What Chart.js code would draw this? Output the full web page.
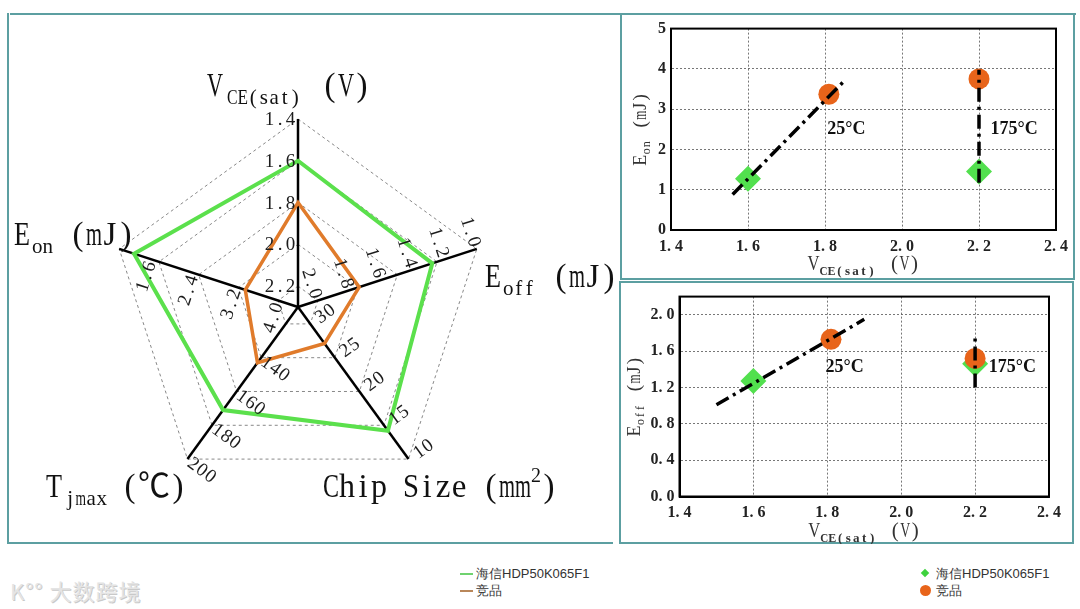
<!DOCTYPE html>
<html>
<head>
<meta charset="utf-8">
<script src="https://cdn.jsdelivr.net/npm/chart.js@4.4.1/dist/chart.umd.min.js"></script>
<style>
html, body { margin: 0; padding: 0; background: #fff; }
#page { position: relative; width: 1080px; height: 609px; overflow: hidden; font-family: 'Liberation Sans', Arial, sans-serif; }
canvas { position: absolute; }
.line { position: absolute; background: #5c9fa1; }
.legend { position: absolute; font-size: 13px; color: #333; line-height: 17px; }
.legend div { position: relative; padding-left: 18px; }
.legend .dash { position: absolute; left: 2px; top: 8px; width: 13px; height: 2px; }
.legend .dia { position: absolute; left: 4px; top: 5px; width: 6px; height: 6px; transform: rotate(45deg); background: #3ed23e; }
.legend .dot { position: absolute; left: 2px; top: 3px; width: 11px; height: 11px; border-radius: 50%; background: #e8641a; }
#mark { position: absolute; left: 10px; top: 574px; font-size: 22px; color: #e4e4e4; font-family: 'Noto Sans CJK SC', sans-serif; text-shadow: 1px 1px 0 #c9c9c9; letter-spacing: 1px; }
</style>
</head>
<body>
<div id="page">
  <div class="line" style="left:10px;top:13px;width:1066px;height:2px;"></div>
  <div class="line" style="left:7px;top:13px;width:2px;height:531px;"></div>
  <div class="line" style="left:7px;top:542px;width:606px;height:2px;"></div>
  <div class="line" style="left:620px;top:13px;width:2px;height:266px;"></div>
  <div class="line" style="left:1073px;top:13px;width:2px;height:266px;"></div>
  <div class="line" style="left:620px;top:278px;width:455px;height:2px;"></div>
  <div class="line" style="left:619px;top:281px;width:455px;height:2px;"></div>
  <div class="line" style="left:619px;top:281px;width:2px;height:263px;"></div>
  <div class="line" style="left:1072px;top:281px;width:2px;height:263px;"></div>
  <div class="line" style="left:619px;top:542px;width:455px;height:2px;"></div>

  <canvas id="radar" width="620" height="545" style="left:0;top:0;"></canvas>
  <canvas id="eonChart" width="455" height="266" style="left:620px;top:14px;"></canvas>
  <canvas id="eoffChart" width="455" height="262" style="left:620px;top:282px;"></canvas>

  <div class="legend" style="left:458px;top:565px;">
    <div><span class="dash" style="background:#6fd26f;"></span>海信HDP50K065F1</div>
    <div><span class="dash" style="background:#b9875a;"></span>竞品</div>
  </div>
  <div class="legend" style="left:918px;top:565px;">
    <div><span class="dia"></span>海信HDP50K065F1</div>
    <div><span class="dot"></span>竞品</div>
  </div>
  <div id="mark">K°° 大数跨境</div>
</div>

<script>
// Radar axes (clockwise from top)
const radarAxes = ['VCE(sat) (V)', 'Eoff (mJ)', 'Chip Size (mm2)', 'Tjmax (℃)', 'Eon (mJ)'];
const axisOuter = [1.4, 1.0, 10, 200, 1.0]; // value at outer ring
const axisInner = [2.2, 2.0, 30, 120, 4.0]; // value at innermost ring
const axisTicks = [
    ['1.4', '1.6', '1.8', '2.0', '2.2'],
    ['1.0', '1.2', '1.4', '1.6', '1.8', '2.0'],
    ['10', '15', '20', '25', '30'],
    ['140', '160', '180', '200'],
    ['1.6', '2.4', '3.2', '4.0']
];
const hisenseRadar = [1.6, 1.28, 14.2, 171, 1.28];
const rivalRadar = [1.8, 1.74, 27.1, 143, 3.38];
const ringLevels = [0, 0.5, 1.5, 2.5, 3.5, 4.5];

// Scatter data
const vceTicks = [1.4, 1.6, 1.8, 2.0, 2.2, 2.4];
const eonTicks = [0, 1, 2, 3, 4, 5];
const eoffTicks = [0, 0.4, 0.8, 1.2, 1.6, 2.0];
const hisenseVce = [1.6, 2.2];
const rivalVce = [1.81, 2.2];
const hisenseEon = [1.27, 1.45];
const rivalEon = [3.37, 3.75];
const hisenseEoff = [1.27, 1.46];
const rivalEoff = [1.73, 1.52];
const eonTrend25 = [[1.56, 0.88], [1.85, 3.70]];
const eonTrend175 = [[2.2, 1.17], [2.2, 3.98]];
const eoffTrend25 = [[1.5, 1.01], [1.9, 1.95]];
const eoffTrend175 = [[2.2, 1.2], [2.2, 1.77]];
const eonTempLabels = [['25°C', 1.806, 2.49], ['175°C', 2.23, 2.49]];
const eoffTempLabels = [['25°C', 1.795, 1.42], ['175°C', 2.237, 1.42]];

const serif = "'Liberation Serif', 'Noto Sans CJK SC', serif";

// Draw text like a fixed-width (SimSun style) font: each glyph in its own cell
function monoText(ctx, text, x, y, size, cell, weight) {
    ctx.font = (weight || 'normal') + ' ' + size + 'px ' + serif;
    ctx.textAlign = 'center';
    let cx = x;
    for (const ch of text) {
        const c = ch.charCodeAt(0) > 0x2000 ? cell * 2 : cell;
        const w = ctx.measureText(ch).width;
        ctx.save();
        ctx.translate(cx + c / 2, y);
        if (w > c) ctx.scale(c / w, 1);
        ctx.fillText(ch, 0, 0);
        ctx.restore();
        cx += c;
    }
    return cx;
}

function monoWidth(text, cell) {
    let w = 0;
    for (const ch of text) w += ch.charCodeAt(0) > 0x2000 ? cell * 2 : cell;
    return w;
}

// map an axis value onto the shared radial scale (0.5 .. 4.5)
function norm(v, i) {
    return 0.5 + 4 * (v - axisInner[i]) / (axisOuter[i] - axisInner[i]);
}

const radarText = {
    id: 'radarText',
    afterDraw(chart) {
        const s = chart.scales.r;
        const ctx = chart.ctx;
        ctx.save();
        ctx.fillStyle = '#1c1c1c';
        ctx.textBaseline = 'middle';
        radarAxes.forEach((name, i) => {
            const deg = i * 72;
            const rot = deg <= 90 ? deg : (deg < 270 ? deg - 180 : deg - 360);
            const side = (deg - 90) * Math.PI / 180;
            axisTicks[i].forEach(t => {
                const p = s.getPointPosition(i, s.getDistanceFromCenterForValue(norm(parseFloat(t), i)));
                const cx = p.x + 18 * Math.sin(side);
                const cy = p.y - 18 * Math.cos(side);
                ctx.save();
                ctx.translate(cx, cy);
                ctx.rotate(rot * Math.PI / 180);
                monoText(ctx, t, -monoWidth(t, 10.5) / 2, 1, 19, 10.5);
                ctx.restore();
            });
        });

        // axis titles
        ctx.textBaseline = 'alphabetic';
        ctx.fillStyle = '#111';
        let x = monoText(ctx, 'V', 207, 96, 33, 16);
        monoText(ctx, 'CE(sat)', x + 4, 104, 21, 10.5);
        monoText(ctx, '(V)', 322, 96, 33, 16);

        x = monoText(ctx, 'E', 14, 245, 33, 16);
        monoText(ctx, 'on', x + 2, 253, 21, 10.5);
        monoText(ctx, '(mJ)', 70, 245, 33, 16);

        x = monoText(ctx, 'E', 485, 287, 33, 16);
        monoText(ctx, 'off', x + 2, 295, 21, 10.5);
        monoText(ctx, '(mJ)', 553, 287, 33, 16);

        x = monoText(ctx, 'T', 46, 497, 33, 16);
        monoText(ctx, 'jmax', x + 3, 505, 21, 10.5);
        monoText(ctx, '(℃)', 122, 497, 33, 16);

        x = monoText(ctx, 'Chip Size (mm', 323, 497, 33, 16);
        x = monoText(ctx, '2', x, 482, 20, 10);
        monoText(ctx, ')', x, 497, 33, 16);
        ctx.restore();
    }
};

new Chart(document.getElementById('radar'), {
    type: 'radar',
    data: {
        labels: radarAxes,
        datasets: [
            {
                label: '海信HDP50K065F1',
                data: hisenseRadar.map(norm),
                borderColor: '#5be04c',
                borderWidth: 4,
                fill: false,
                pointRadius: 0
            },
            {
                label: '竞品',
                data: rivalRadar.map(norm),
                borderColor: '#e07b2b',
                borderWidth: 3.5,
                fill: false,
                pointRadius: 0
            }
        ]
    },
    options: {
        responsive: false,
        animation: false,
        layout: { padding: { left: 110, right: 134, top: 119, bottom: 50 } },
        elements: { line: { tension: 0, borderJoinStyle: 'miter' } },
        plugins: { legend: { display: false }, tooltip: { enabled: false } },
        scales: {
            r: {
                min: 0,
                max: 4.5,
                startAngle: 0,
                afterBuildTicks: s => { s.ticks = ringLevels.map(v => ({ value: v })); },
                ticks: { display: false },
                pointLabels: { display: false },
                grid: { color: '#6a6a6a', lineWidth: 0.8, borderDash: [3, 3] },
                border: { dash: [3, 3] },
                angleLines: { color: '#000', lineWidth: 2.5 }
            }
        }
    },
    plugins: [radarText]
});

// frame, axis titles and temperature labels for the scatter panels
function scatterDecor(yName, tempLabels, yTitleOffset) {
    return {
        id: 'decor',
        afterDraw(chart) {
            const ctx = chart.ctx;
            const a = chart.chartArea;
            const xs = chart.scales.x, ys = chart.scales.y;
            ctx.save();
            ctx.strokeStyle = '#000';
            ctx.lineWidth = 2;
            ctx.strokeRect(a.left, a.top, a.right - a.left, a.bottom - a.top);

            ctx.fillStyle = '#111';
            ctx.textBaseline = 'middle';
            tempLabels.forEach(l => {
                ctx.font = 'bold 18px ' + serif;
                ctx.textAlign = 'left';
                ctx.fillText(l[0], xs.getPixelForValue(l[1]), ys.getPixelForValue(l[2]));
            });

            // x title
            ctx.textBaseline = 'alphabetic';
            ctx.fillStyle = '#333';
            const cx = (a.left + a.right) / 2;
            const w = 12 + 7 * 8 + 14 + 3 * 10;
            let x = monoText(ctx, 'V', cx - w / 2, a.bottom + 40, 21, 12);
            monoText(ctx, 'CE(sat)', x, a.bottom + 45, 13, 8, 'bold');
            monoText(ctx, '(V)', x + 7 * 8 + 14, a.bottom + 40, 21, 10);

            // y title (rotated)
            ctx.translate(a.left - yTitleOffset, (a.top + a.bottom) / 2);
            ctx.rotate(-Math.PI / 2);
            const wy = 11 + yName.length * 7 + 12 + 4 * 9;
            x = monoText(ctx, 'E', -wy / 2, 6, 19, 11);
            monoText(ctx, yName, x, 10, 12, 7);
            monoText(ctx, '(mJ)', x + yName.length * 7 + 12, 6, 19, 9);
            ctx.restore();
        }
    };
}

function scatterConfig(yVals, yMax, hisY, rivY, trend25, trend175, tempLabels, yName, pad, yWidth, xHeight, yTitleOffset, tickFmt) {
    return {
        type: 'scatter',
        data: {
            datasets: [
                {
                    type: 'line',
                    data: trend25.map(p => ({ x: p[0], y: p[1] })),
                    borderColor: '#000',
                    borderWidth: 3.5,
                    borderDash: [14, 5, 3, 5],
                    pointRadius: 0,
                    order: 1
                },
                {
                    type: 'line',
                    data: trend175.map(p => ({ x: p[0], y: p[1] })),
                    borderColor: '#000',
                    borderWidth: 3.5,
                    borderDash: [14, 5, 3, 5],
                    pointRadius: 0,
                    order: 1
                },
                {
                    label: '竞品',
                    data: rivalVce.map((v, i) => ({ x: v, y: rivY[i] })),
                    pointStyle: 'circle',
                    pointRadius: 10.5,
                    backgroundColor: '#e8641a',
                    borderWidth: 0,
                    order: 2
                },
                {
                    label: '海信HDP50K065F1',
                    data: hisenseVce.map((v, i) => ({ x: v, y: hisY[i] })),
                    pointStyle: 'rectRot',
                    pointRadius: 13,
                    backgroundColor: '#52e04e',
                    borderWidth: 0,
                    order: 3
                }
            ]
        },
        options: {
            responsive: false,
            animation: false,
            layout: { padding: pad },
            plugins: { legend: { display: false }, tooltip: { enabled: false } },
            scales: {
                x: {
                    type: 'linear',
                    min: 1.4,
                    max: 2.4,
                    afterBuildTicks: s => { s.ticks = vceTicks.map(v => ({ value: v })); },
                    afterFit: s => { s.height = xHeight; },
                    ticks: {
                        padding: 7,
                        color: '#222',
                        font: { family: serif, size: 16, weight: 'bold' },
                        callback: v => v.toFixed(1).replace('.', '. ')
                    },
                    grid: { color: '#555', lineWidth: 0.8, drawTicks: false },
                    border: { dash: [2, 2], color: '#000', width: 2 }
                },
                y: {
                    type: 'linear',
                    min: 0,
                    max: yMax,
                    afterBuildTicks: s => { s.ticks = yVals.map(v => ({ value: v })); },
                    afterFit: s => { s.width = yWidth; },
                    ticks: {
                        padding: 5,
                        color: '#222',
                        font: { family: serif, size: 16, weight: 'bold' },
                        callback: tickFmt
                    },
                    grid: { color: '#555', lineWidth: 0.8, drawTicks: false },
                    border: { dash: [2, 2], color: '#000', width: 2 }
                }
            }
        },
        plugins: [scatterDecor(yName, tempLabels, yTitleOffset)]
    };
}

new Chart(document.getElementById('eonChart'), scatterConfig(
    eonTicks, 5, hisenseEon, rivalEon, eonTrend25, eonTrend175, eonTempLabels, 'on',
    { left: 0, right: 18, top: 11, bottom: 0 }, 51, 50, 31,
    v => String(v)
));

new Chart(document.getElementById('eoffChart'), scatterConfig(
    eoffTicks, 2.2, hisenseEoff, rivalEoff, eoffTrend25, eoffTrend175, eoffTempLabels, 'off',
    { left: 0, right: 26, top: 7.5, bottom: 0 }, 59.5, 47.5, 46,
    v => v.toFixed(1).replace('.', '. ')
));
</script>
</body>
</html>
